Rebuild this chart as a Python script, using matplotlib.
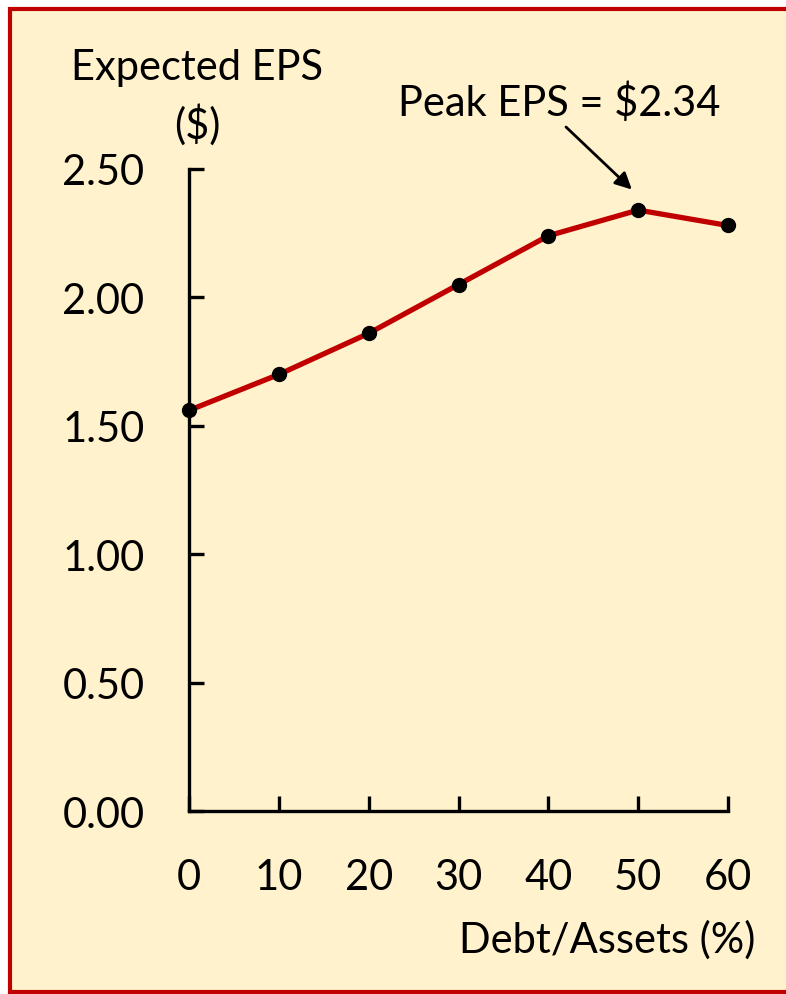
import matplotlib
matplotlib.use("Agg")
from matplotlib import pyplot as plt
from matplotlib.patches import Rectangle

debt_pct = [0, 10, 20, 30, 40, 50, 60]
expected_eps = [1.56, 1.70, 1.86, 2.05, 2.24, 2.34, 2.28]
y_ticks = [0.0, 0.5, 1.0, 1.5, 2.0, 2.5]
peak_idx = 5

plt.rcParams['font.family'] = ['Lato', 'DejaVu Sans']

W, H = 786, 995
FS = 30
fig = plt.figure(figsize=(W / 100, H / 100), dpi=100, facecolor='white')

# cream panel with dark red frame (right edge runs off the image)
fig.patches.append(Rectangle((10 / W, 2 / H), 1.0, (H - 12) / H, transform=fig.transFigure,
                             facecolor='#FFF2CC', edgecolor='#C00000', linewidth=3, zorder=-1))

ax = fig.add_axes([189 / W, 1 - 812 / H, (728 - 189) / W, (812 - 170) / H])
ax.set_facecolor('none')
ax.plot(debt_pct, expected_eps, color='#C00000', lw=3.8, zorder=2, clip_on=False)
ax.plot(debt_pct, expected_eps, 'o', color='black', ms=10, zorder=3, clip_on=False)

ax.set_xlim(0, 60)
ax.set_ylim(0, 2.5)
ax.set_xticks(debt_pct)
ax.set_yticks(y_ticks)
ax.set_yticklabels([f"{v:.2f}" for v in y_ticks])
for s in ['top', 'right']:
    ax.spines[s].set_visible(False)
for s in ['left', 'bottom']:
    ax.spines[s].set_linewidth(2.4)
ax.tick_params(direction='in', length=11, width=2.4, labelsize=FS)
ax.tick_params(axis='y', pad=32)
ax.tick_params(axis='x', pad=34)

fig.text(197 / W, 1 - 68 / H, "Expected EPS", ha='center', va='center', fontsize=FS)
fig.text(197 / W, 1 - 125 / H, "($)", ha='center', va='center', fontsize=FS)
fig.text(755 / W, 1 - 940 / H, "Debt/Assets (%)", ha='right', va='center', fontsize=FS)

# peak label and arrow
fig.text(559 / W, 1 - 103 / H, f"Peak EPS = ${expected_eps[peak_idx]:.2f}",
         ha='center', va='center', fontsize=FS)
ax.annotate("", xy=(debt_pct[peak_idx] - 0.7, expected_eps[peak_idx] + 0.08),
            xytext=(566 / W, 1 - 128 / H), textcoords='figure fraction',
            arrowprops=dict(arrowstyle='-|>', color='black', lw=2, mutation_scale=25,
                            shrinkA=0, shrinkB=0))

fig.savefig('out.png', dpi=100, facecolor=fig.get_facecolor())
